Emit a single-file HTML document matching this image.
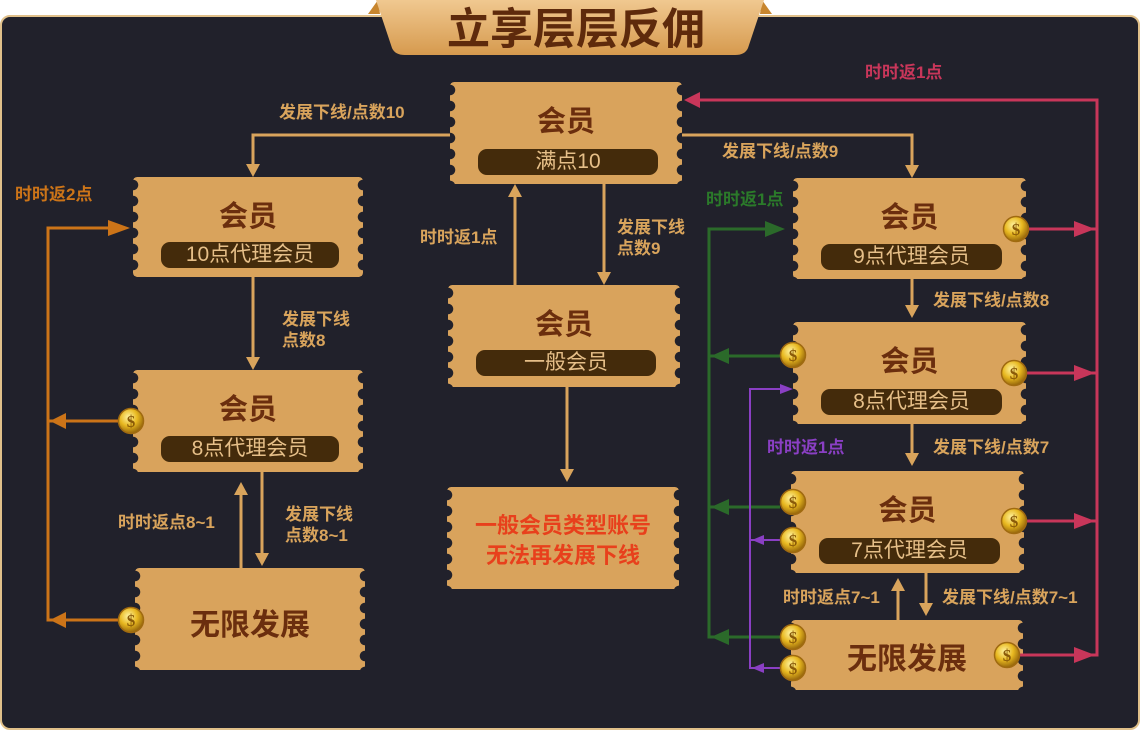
<!DOCTYPE html>
<html><head><meta charset="utf-8"><style>
*{margin:0;padding:0;box-sizing:border-box}
body{width:1140px;height:730px;background:#fff;position:relative;overflow:hidden;font-family:"Liberation Sans","Noto Sans CJK SC",sans-serif}
#panel{position:absolute;left:0;top:15px;width:1140px;height:715px;background:#21212b;border:2px solid #e0c08a;border-radius:10px}
.box{position:absolute;background:#d9a35c;border-radius:4px;
-webkit-mask:radial-gradient(circle at 0 50%,transparent 5px,#000 5.5px) left top/51% 16px repeat-y,radial-gradient(circle at 100% 50%,transparent 5px,#000 5.5px) right top/51% 16px repeat-y;
mask:radial-gradient(circle at 0 50%,transparent 5px,#000 5.5px) left top/51% 16px repeat-y,radial-gradient(circle at 100% 50%,transparent 5px,#000 5.5px) right top/51% 16px repeat-y}
.t{position:absolute;left:0;right:0;text-align:center;color:#6b2e0e;font-size:29px;font-weight:bold}
.p{position:absolute;left:28px;right:24px;height:26px;border-radius:9px;background:#442b0b;color:#e6bf88;font-size:21px;text-align:center;line-height:26px}
.l{position:absolute;color:#d9a45c;font-size:17px;font-weight:bold;line-height:21px;white-space:nowrap}
</style></head><body>
<div id="panel"></div>
<svg style="position:absolute;left:0;top:0" width="1140" height="60">
<defs><linearGradient id="g" x1="0" y1="0" x2="0" y2="1"><stop offset="0" stop-color="#f0c890"/><stop offset="1" stop-color="#d69a4e"/></linearGradient></defs>
<polygon points="368,14 378,0 380,14" fill="#c8862e"/><polygon points="772,14 762,0 760,14" fill="#c8862e"/>
<path d="M376,0 L764,0 L748,48 Q745,55 735,55 L405,55 Q395,55 392,48 Z" fill="url(#g)"/>
<text x="576" y="44" text-anchor="middle" font-size="43" font-weight="bold" fill="#5e2a0c" font-family="Liberation Sans,Noto Sans CJK SC,sans-serif">立享层层反佣</text>
</svg>

<div class="box" style="left:450px;top:82px;width:232px;height:102px"><div class="t" style="top:16px">会员</div><div class="p" style="top:67px">满点10</div></div>
<div class="box" style="left:133px;top:177px;width:230px;height:100px"><div class="t" style="top:16px">会员</div><div class="p" style="top:65px">10点代理会员</div></div>
<div class="box" style="left:133px;top:370px;width:230px;height:102px"><div class="t" style="top:16px">会员</div><div class="p" style="top:66px">8点代理会员</div></div>
<div class="box" style="left:135px;top:568px;width:230px;height:102px"><div class="t" style="top:32px;font-size:30px">无限发展</div></div>
<div class="box" style="left:448px;top:285px;width:232px;height:102px"><div class="t" style="top:16px">会员</div><div class="p" style="top:65px">一般会员</div></div>
<div class="box" style="left:447px;top:487px;width:232px;height:102px"><div class="t" style="top:24px;color:#e8401c;font-size:22px;line-height:30px">一般会员类型账号<br>无法再发展下线</div></div>
<div class="box" style="left:793px;top:178px;width:233px;height:101px"><div class="t" style="top:16px">会员</div><div class="p" style="top:66px">9点代理会员</div></div>
<div class="box" style="left:793px;top:322px;width:233px;height:102px"><div class="t" style="top:16px">会员</div><div class="p" style="top:67px">8点代理会员</div></div>
<div class="box" style="left:791px;top:471px;width:233px;height:102px"><div class="t" style="top:16px">会员</div><div class="p" style="top:67px">7点代理会员</div></div>
<div class="box" style="left:791px;top:620px;width:232px;height:70px"><div class="t" style="top:14px;font-size:30px">无限发展</div></div>

<svg style="position:absolute;left:0;top:0" width="1140" height="730">
<defs>
<radialGradient id="c" cx="0.4" cy="0.35" r="0.7"><stop offset="0" stop-color="#fff3a0"/><stop offset="0.5" stop-color="#e8b820"/><stop offset="1" stop-color="#8a5a08"/></radialGradient>
<g id="coin"><circle r="12.5" fill="url(#c)" stroke="#a06a10" stroke-width="1.5"/><text y="6" text-anchor="middle" font-size="17" font-weight="bold" fill="#8a5a08" font-family="Liberation Serif,serif">$</text></g>
</defs>
<g stroke="#d9a45c" stroke-width="3" fill="none">
<polyline points="450,135 253,135 253,166"/><polyline points="682,135 912,135 912,167"/>
<line x1="604" y1="184" x2="604" y2="274"/><line x1="515" y1="285" x2="515" y2="195"/>
<line x1="567" y1="387" x2="567" y2="471"/><line x1="253" y1="277" x2="253" y2="359"/>
<line x1="262" y1="472" x2="262" y2="555"/><line x1="241" y1="568" x2="241" y2="493"/>
<line x1="912" y1="279" x2="912" y2="307"/><line x1="912" y1="424" x2="912" y2="455"/>
<line x1="926" y1="573" x2="926" y2="605"/><line x1="898" y1="620" x2="898" y2="589"/>
</g>
<g fill="#d9a45c">
<polygon points="246,164 260,164 253,177"/><polygon points="905,165 919,165 912,178"/>
<polygon points="597,272 611,272 604,285"/><polygon points="508,197 522,197 515,184"/>
<polygon points="560,469 574,469 567,482"/><polygon points="246,357 260,357 253,370"/>
<polygon points="255,553 269,553 262,566"/><polygon points="234,495 248,495 241,482"/>
<polygon points="905,305 919,305 912,318"/><polygon points="905,453 919,453 912,466"/>
<polygon points="919,603 933,603 926,616"/><polygon points="891,591 905,591 898,578"/>
</g>
<g stroke="#cc7418" stroke-width="3" fill="none"><polyline points="118,228 48,228 48,620 118,620"/><line x1="48" y1="421" x2="118" y2="421"/></g>
<g fill="#cc7418"><polygon points="108,220 130,228 108,236"/><polygon points="66,413 50,421 66,429"/><polygon points="66,612 50,620 66,628"/></g>
<g stroke="#c8365a" stroke-width="3" fill="none"><polyline points="698,100 1097,100 1097,655 1020,655"/><line x1="1026" y1="229" x2="1097" y2="229"/><line x1="1026" y1="373" x2="1097" y2="373"/><line x1="1026" y1="521" x2="1097" y2="521"/></g>
<g fill="#c8365a"><polygon points="700,92 684,100 700,108"/><polygon points="1074,221 1095,229 1074,237"/><polygon points="1074,365 1095,373 1074,381"/><polygon points="1074,513 1095,521 1074,529"/><polygon points="1074,647 1095,655 1074,663"/></g>
<g stroke="#2b6a2a" stroke-width="3" fill="none"><polyline points="770,229 709,229 709,637 780,637"/><line x1="709" y1="356" x2="780" y2="356"/><line x1="709" y1="507" x2="780" y2="507"/></g>
<g fill="#2b6a2a"><polygon points="765,221 785,229 765,237"/><polygon points="729,348 711,356 729,364"/><polygon points="729,499 711,507 729,515"/><polygon points="729,629 711,637 729,645"/></g>
<g stroke="#8a3fc4" stroke-width="2" fill="none"><polyline points="782,389 750,389 750,668 780,668"/><line x1="750" y1="540" x2="780" y2="540"/></g>
<g fill="#8a3fc4"><polygon points="780,384 793,389 780,394"/><polygon points="764,535 752,540 764,545"/><polygon points="764,663 752,668 764,673"/></g>
<use href="#coin" x="131" y="421"/><use href="#coin" x="131" y="620"/>
<use href="#coin" x="1016" y="229"/><use href="#coin" x="793" y="355"/><use href="#coin" x="1014" y="373"/>
<use href="#coin" x="793" y="502"/><use href="#coin" x="793" y="540"/><use href="#coin" x="1014" y="521"/>
<use href="#coin" x="793" y="637"/><use href="#coin" x="793" y="668"/><use href="#coin" x="1007" y="655"/>
</svg>

<div class="l" style="left:279px;top:102px">发展下线/点数10</div>
<div class="l" style="left:722px;top:141px">发展下线/点数9</div>
<div class="l" style="left:617px;top:217px">发展下线<br>点数9</div>
<div class="l" style="left:420px;top:227px">时时返1点</div>
<div class="l" style="left:282px;top:309px">发展下线<br>点数8</div>
<div class="l" style="left:118px;top:512px">时时返点8~1</div>
<div class="l" style="left:285px;top:504px">发展下线<br>点数8~1</div>
<div class="l" style="left:15px;top:184px;color:#cc7418">时时返2点</div>
<div class="l" style="left:865px;top:62px;color:#c8365a">时时返1点</div>
<div class="l" style="left:706px;top:189px;color:#2b7a2a">时时返1点</div>
<div class="l" style="left:767px;top:437px;color:#8a3fc4">时时返1点</div>
<div class="l" style="left:933px;top:290px">发展下线/点数8</div>
<div class="l" style="left:933px;top:437px">发展下线/点数7</div>
<div class="l" style="left:783px;top:587px">时时返点7~1</div>
<div class="l" style="left:942px;top:587px">发展下线/点数7~1</div>
</body></html>
